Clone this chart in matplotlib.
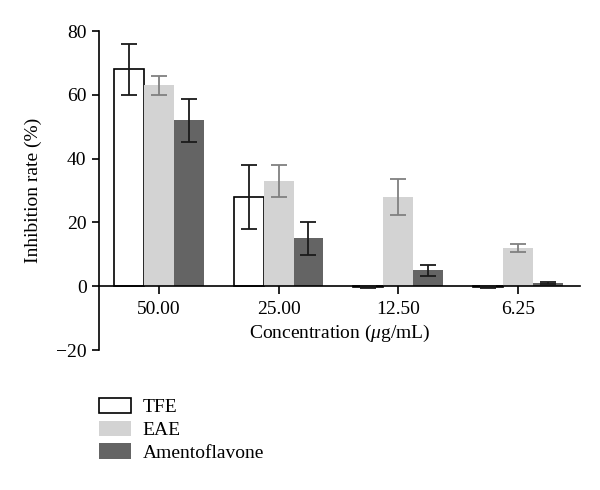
import matplotlib
matplotlib.use("Agg")
import matplotlib.pyplot as plt
import numpy as np

plt.rcParams["font.family"] = ["Liberation Serif", "DejaVu Serif"]
plt.rcParams["mathtext.fontset"] = "custom"
plt.rcParams["mathtext.rm"] = "Liberation Serif"
plt.rcParams["mathtext.it"] = "Liberation Serif:italic"

# data
concentrations = ["50.00", "25.00", "12.50", "6.25"]
tfe = [68, 28, -0.3, -0.3]
tfe_err = [8, 10, 0.4, 0.4]
eae = [63, 33, 28, 12]
eae_err = [3, 5, 5.6, 1.2]
amento = [52, 15, 5, 1]
amento_err = [6.8, 5.2, 1.7, 0.4]

series = [
    ("TFE", tfe, tfe_err, "white", "black", "#1a1a1a"),
    ("EAE", eae, eae_err, "#d3d3d3", "none", "#808080"),
    ("Amentoflavone", amento, amento_err, "#646464", "none", "#1a1a1a"),
]

fig = plt.figure(figsize=(6, 4.9), dpi=100)
ax = fig.add_axes([0.165, 0.2857, 0.802, 0.651])

x = np.arange(len(concentrations))
w = 0.25
handles = []
for i, (name, vals, errs, fc, ec, errc) in enumerate(series):
    pos = x + (i - 1) * w
    b = ax.bar(pos, vals, width=w, color=fc, edgecolor=ec, linewidth=1.2,
               label=name, zorder=2)
    ax.errorbar(pos, vals, yerr=errs, fmt="none", ecolor=errc, elinewidth=1.3,
                capsize=5.5, capthick=1.3, zorder=3)
    handles.append(b)

ax.set_xlim(-0.5, 3.52)
ax.set_ylim(-20, 80)
ax.set_yticks([-20, 0, 20, 40, 60, 80])
ax.set_yticklabels(["\u221220", "0", "20", "40", "60", "80"])
ax.set_xticks(x)
ax.set_xticklabels(concentrations)

for s in ["top", "right"]:
    ax.spines[s].set_visible(False)
ax.spines["bottom"].set_position(("data", 0))
ax.spines["left"].set_linewidth(1.2)
ax.spines["bottom"].set_linewidth(1.2)
ax.tick_params(axis="both", labelsize=14, width=1.2, length=5, color="black")
ax.tick_params(axis="y", pad=4)
ax.tick_params(axis="x", length=6, pad=5)

ax.set_xlabel(r"Concentration ($\mu$g/mL)", fontsize=14, labelpad=3)
ax.set_ylabel("Inhibition rate (%)", fontsize=14, labelpad=10)

fig.legend(handles=handles, labels=[s[0] for s in series], loc="upper left",
           bbox_to_anchor=(0.165, 0.188), frameon=False, fontsize=14,
           handlelength=1.65, handleheight=0.85, labelspacing=0.22,
           handletextpad=0.6, borderpad=0, borderaxespad=0)

plt.savefig("out.png", dpi=100)
